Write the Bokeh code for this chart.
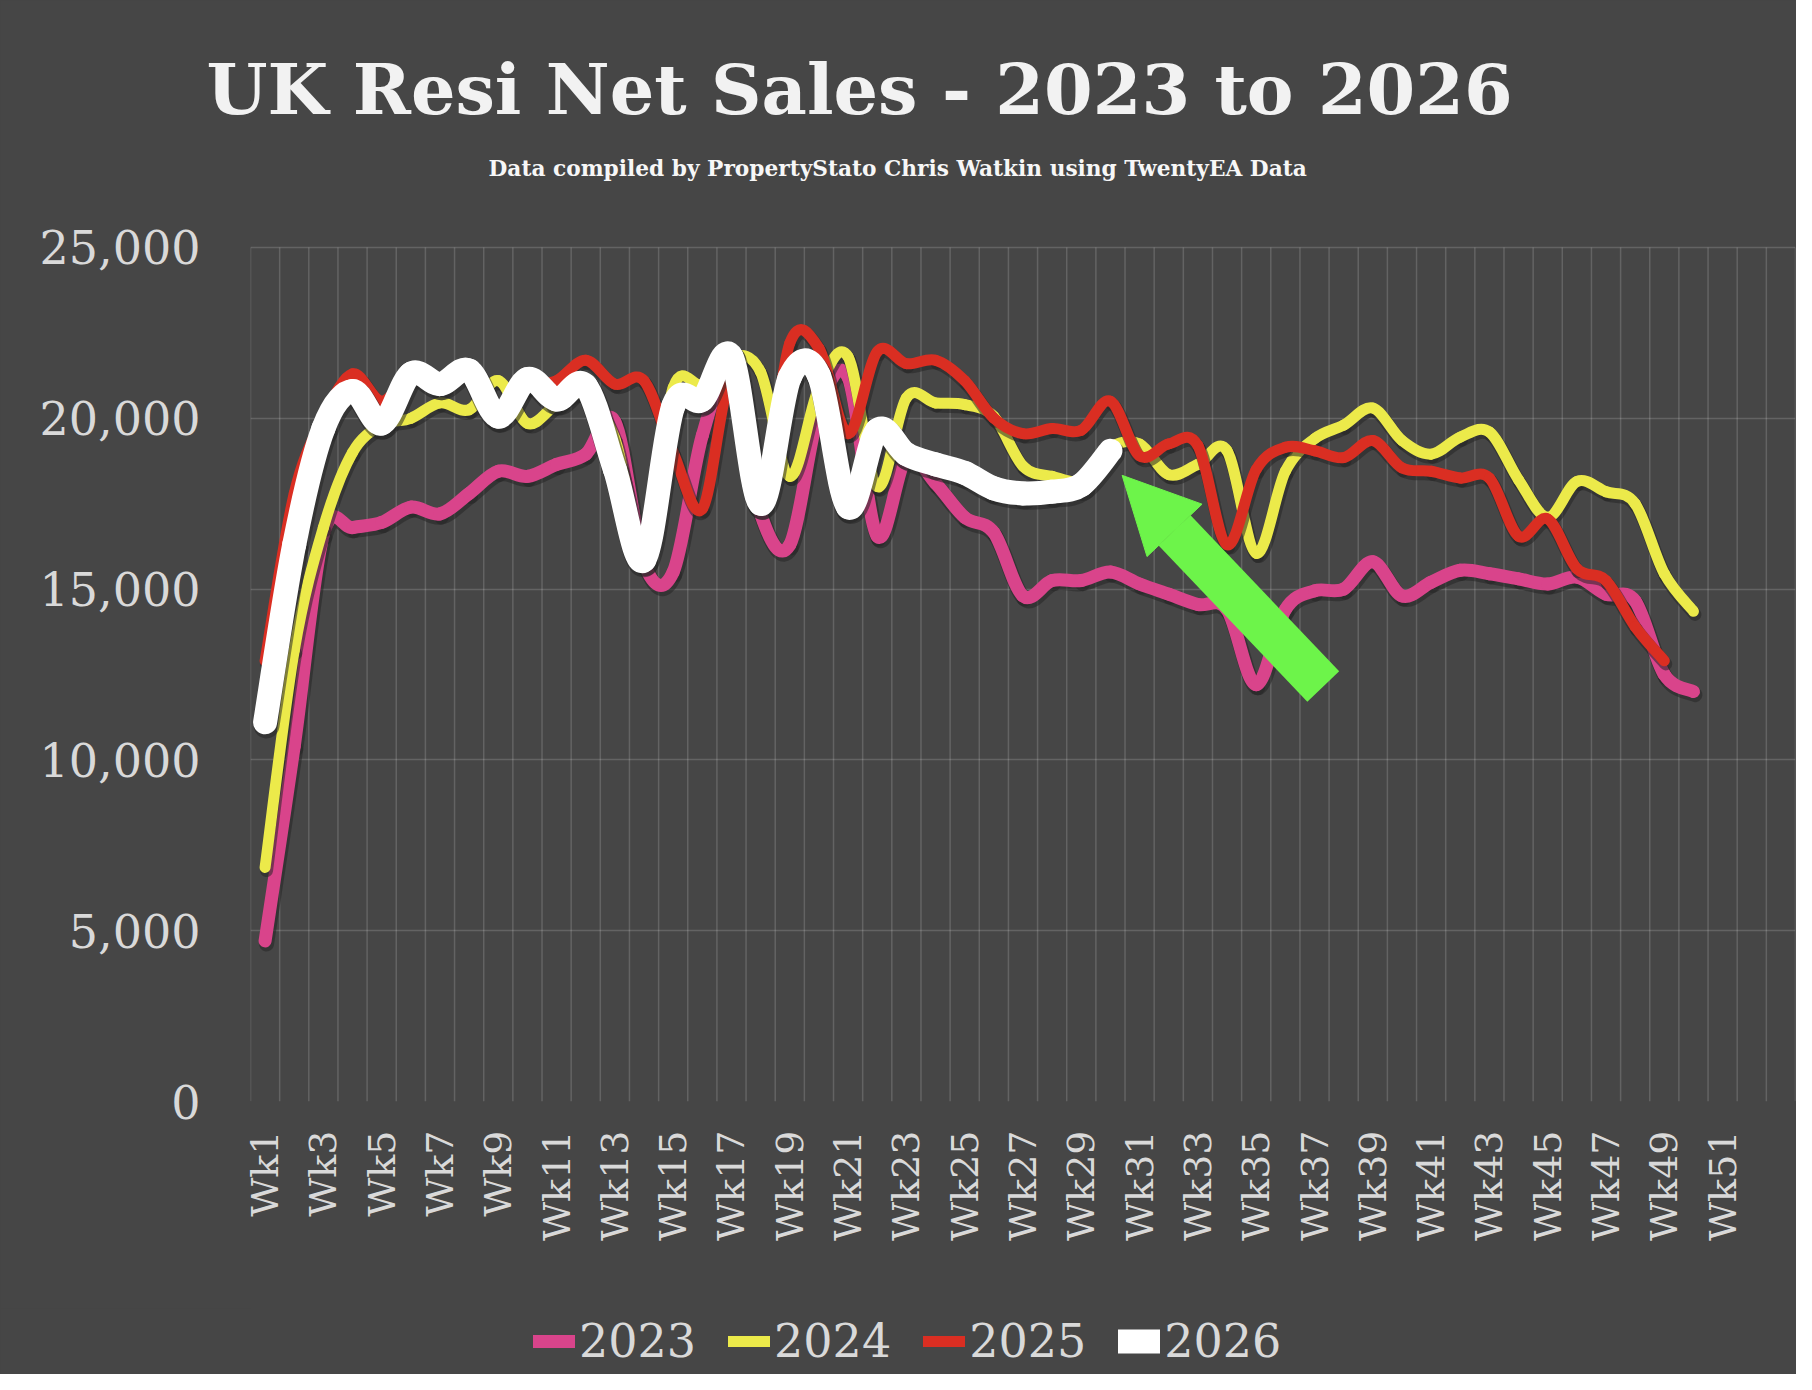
import math
import numpy as np
from bokeh.plotting import figure
from bokeh.layouts import column
from bokeh.models import (Range1d, FixedTicker, NumeralTickFormatter, Title, Legend,
                          LegendItem, Arrow, NormalHead, Label)
from bokeh.embed import file_html
from bokeh.resources import INLINE

# weekly net sales
weeks = ["Wk%d" % i for i in range(1, 54)]

sales_2023 = [4700, 10400, 16600, 16800, 16950, 17400, 17200, 17800, 18450, 18300,
              18650, 18950, 19900, 15750, 15500, 19500, 21300, 17200, 16300, 20200,
              21200, 16550, 18850, 18100, 17100, 16650, 14800, 15250, 15250, 15500,
              15150, 14850, 14550, 14400, 12200, 14400, 14950, 15000, 15800, 14800,
              15200, 15550, 15450, 15300, 15150, 15350, 14850, 14650, 12500, 12000]

sales_2024 = [6850, 13200, 16800, 19000, 19800, 20000, 20450, 20250, 21100, 19850,
              20400, 20700, 19400, 16200, 20900, 21000, 21800, 21350, 18300, 20900,
              21800, 18000, 20600, 20450, 20400, 20050, 18600, 18300, 18200, 19150,
              19250, 18350, 18650, 19050, 16050, 18450, 19400, 19800, 20300, 19350,
              18950, 19450, 19600, 18200, 17100, 18150, 17850, 17500, 15450, 14350]

sales_2025 = [12900, 17800, 20000, 21300, 20500, 21250, 21050, 21350, 20150, 20900,
              21100, 21700, 21000, 21100, 19000, 17350, 21100, 17600, 22200, 22050,
              19550, 21950, 21600, 21700, 21100, 20000, 19550, 19700, 19650, 20500,
              18900, 19250, 19200, 16300, 18500, 19150, 19050, 18850, 19350, 18550,
              18450, 18250, 18250, 16550, 17050, 15600, 15250, 13900, 12900]

sales_2026 = [11100, 16300, 19700, 20800, 19850, 21300, 21000, 21400, 20050, 21150,
              20550, 20950, 18500, 15850, 20350, 20550, 21800, 17500, 21200, 21250,
              17400, 19650, 18950, 18650, 18400, 17950, 17800, 17850, 18050, 19050]

all_sales = [sales_2023, sales_2024, sales_2025, sales_2026]
series_labels = ["2023", "2024", "2025", "2026"]
y_ticks = [0, 5000, 10000, 15000, 20000, 25000]
y_max = 25000

colors = ["#D9448B", "#ECEA4A", "#DA2E22", "#FFFFFF"]
widths = [13, 11, 11, 24]
green = "#6DF44A"
label_grey = "#D9D9D9"
bg = "#464646"
font = "DejaVu Serif"


def smooth_segments(vals):
    # Excel style smoothed line: one cubic bezier per pair of points
    x = np.arange(1, len(vals) + 1, dtype=float)
    y = np.array(vals, dtype=float)
    n = len(vals)
    xp = np.concatenate([[x[0]], x, [x[-1]]])
    yp = np.concatenate([[y[0]], y, [y[-1]]])
    seg = dict(x0=xp[1:n], y0=yp[1:n], x1=xp[2:n + 1], y1=yp[2:n + 1])
    seg["cx0"] = xp[1:n] + (xp[2:n + 1] - xp[0:n - 1]) / 6
    seg["cy0"] = yp[1:n] + (yp[2:n + 1] - yp[0:n - 1]) / 6
    seg["cx1"] = xp[2:n + 1] - (xp[3:n + 2] - xp[1:n]) / 6
    seg["cy1"] = yp[2:n + 1] - (yp[3:n + 2] - yp[1:n]) / 6
    return seg


# the frame reaches up past 25,000 so the subtitle can sit inside it
p = figure(frame_width=1545, frame_height=961,
           x_range=Range1d(0.5, 53.5), y_range=Range1d(0, 28132),
           output_backend="svg", toolbar_location=None,
           min_border_left=250, min_border_right=1, min_border_top=140, min_border_bottom=207,
           background_fill_color=bg, border_fill_color=bg, outline_line_color=None)

# axes
p.yaxis.ticker = y_ticks
p.yaxis.formatter = NumeralTickFormatter(format="0,0")
p.yaxis.major_label_standoff = 50
p.xaxis.ticker = FixedTicker(ticks=list(range(1, 52, 2)))
p.xaxis.major_label_overrides = {i: weeks[i - 1] for i in range(1, 52, 2)}
p.xaxis.major_label_orientation = math.pi / 2
p.xaxis.major_label_standoff = 29
p.yaxis.major_label_text_font_size = "46px"
p.xaxis.major_label_text_font_size = "38px"
for ax in (p.xaxis, p.yaxis):
    ax.axis_line_color = None
    ax.major_tick_line_color = None
    ax.minor_tick_line_color = None
    ax.major_tick_out = 0
    ax.major_tick_in = 0
    ax.minor_tick_out = 0
    ax.major_label_text_font = font
    ax.major_label_text_color = label_grey

# grid: horizontal at the ticks, vertical at category boundaries up to 25,000
p.xgrid.visible = False
p.ygrid.ticker = y_ticks
p.ygrid.grid_line_color = "#FFFFFF"
p.ygrid.grid_line_alpha = 0.16
p.ygrid.grid_line_width = 1.5
edges = [k + 0.5 for k in range(0, 54)]
p.segment(x0=edges, y0=[0] * len(edges), x1=edges, y1=[y_max] * len(edges),
          line_color="#FFFFFF", line_alpha=0.16, line_width=1.5)

# lines with a soft drop shadow
for vals, col, w in zip(all_sales, colors, widths):
    s = smooth_segments(vals)
    p.bezier(x0=s["x0"] + 0.05, y0=s["y0"] - 90, x1=s["x1"] + 0.05, y1=s["y1"] - 90,
             cx0=s["cx0"] + 0.05, cy0=s["cy0"] - 90, cx1=s["cx1"] + 0.05, cy1=s["cy1"] - 90,
             line_color="#262626", line_alpha=0.55, line_width=w + 2, line_cap="round")
    p.bezier(x0=s["x0"], y0=s["y0"], x1=s["x1"], y1=s["y1"],
             cx0=s["cx0"], cy0=s["cy0"], cx1=s["cx1"], cy1=s["cy1"],
             line_color=col, line_width=w, line_cap="round")

# green arrow pointing at the latest week
p.add_layout(Arrow(end=NormalHead(size=76, fill_color=green, line_color=green, line_width=1),
                   x_start=37.3, y_start=12150, x_end=30.4, y_end=18330,
                   line_color=green, line_width=44, line_cap="butt"))

# titles
p.add_layout(Label(x=22.7, y=27313, text="Data compiled by PropertyStato Chris Watkin using TwentyEA Data",
                   text_align="center", text_baseline="middle", text_font=font,
                   text_font_style="bold", text_font_size="21.7px", text_color="#F7F7F7"))
p.add_layout(Title(text="UK  Resi Net Sales - 2023 to 2026",
                   align="left", offset=-44, standoff=20, text_font=font,
                   text_font_style="bold", text_font_size="70px", text_color="#F2F2F2"), "above")

# legend strip under the chart (its lines sit outside the visible range)
lg = figure(width=1796, height=66, output_backend="svg", toolbar_location=None,
            x_range=Range1d(-2, -1), y_range=Range1d(-2, -1),
            x_axis_type=None, y_axis_type=None, min_border=0, outline_line_color=None,
            background_fill_color=bg, border_fill_color=bg)
lg.grid.visible = False
items = []
for lab, vals, col, w in zip(series_labels, all_sales, colors, widths):
    r = lg.line(x=list(range(1, len(vals) + 1)), y=vals, line_color=col, line_width=w,
                line_cap="round")
    items.append(LegendItem(label=lab, renderers=[r]))
legend = Legend(items=items, orientation="horizontal", location=(283, 5),
                label_text_font=font, label_text_font_size="46px", label_text_color=label_grey,
                glyph_width=42, glyph_height=56, label_height=56, label_standoff=4, spacing=32,
                padding=0, margin=0, border_line_alpha=0, background_fill_alpha=0)
lg.add_layout(legend)

layout = column(p, lg, spacing=0, styles={"background-color": bg})
open("out.html", "w").write(file_html(layout, INLINE))
